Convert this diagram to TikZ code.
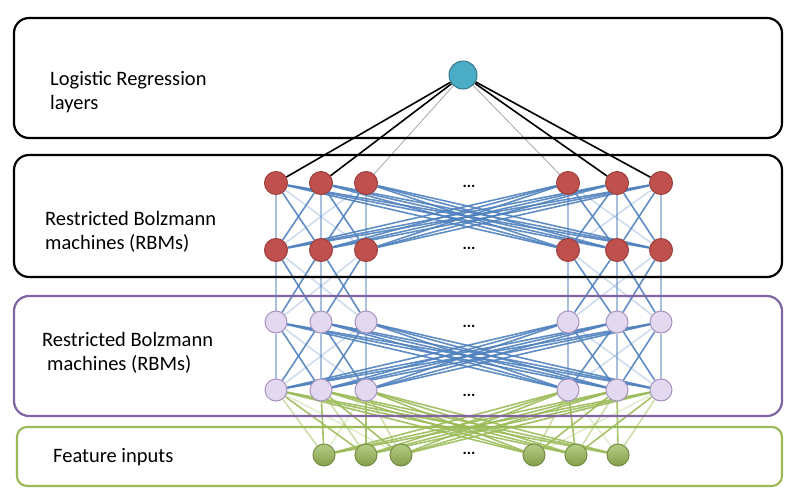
\documentclass[tikz,border=0pt]{standalone}
\usepackage{fontspec}
\setmainfont{Carlito}
\usepackage{xcolor}
\usepackage{tikz}
\usetikzlibrary{backgrounds}

\definecolor{lrblue}{RGB}{75,172,198}
\definecolor{rbmred}{RGB}{192,80,77}
\definecolor{rbmlilac}{RGB}{226,217,240}
\definecolor{rbmpurple}{RGB}{128,100,162}
\definecolor{featgreen}{RGB}{155,187,89}
\definecolor{wblue}{RGB}{79,129,189}

\begin{document}
\begin{tikzpicture}[
    x=1pt, y=-1pt,
    layerbox/.style={line width=2.2pt, rounded corners=15pt},
    lbl/.style={anchor=west, align=left, inner sep=0pt, font=\fontsize{20.5}{23.5}\selectfont},
    unit/.style={circle, minimum size=23pt, inner sep=0pt, line width=1pt},
    outunit/.style={unit, minimum size=28pt, fill=lrblue, draw=lrblue!70!black},
    hidunit/.style={unit, fill=rbmred, draw=rbmred!80!black},
    visunit/.style={unit, minimum size=22pt, fill=rbmlilac, draw=rbmpurple!70},
    inunit/.style={unit, minimum size=22pt, draw=featgreen!75!black,
      top color=featgreen!75!white, bottom color=featgreen!85!black},
    dots/.style={inner sep=0pt, font=\fontsize{16}{16}\selectfont\bfseries},
    wline/.style={line width=1.6pt},
    strong/.style={line width=1.6pt, black},
    faint/.style={line width=0.8pt, black!35}
  ]
  \useasboundingbox (0,0) rectangle (800,498);

  % the four layers
  \draw[layerbox, black] (14,18) rectangle (782,138);
  \draw[layerbox, black] (14,155) rectangle (782,277);
  \draw[layerbox, rbmpurple] (14,296) rectangle (782,416);
  \draw[layerbox, featgreen, rounded corners=10pt] (17,427) rectangle (782,486);

  \node[lbl] (t1) at (50,92) {Logistic Regression\\layers};
  \node[lbl] (t2) at (45,232) {Restricted Bolzmann\\machines (RBMs)};
  \node[lbl] (t3) at (42,353) {Restricted Bolzmann\\\hspace*{5pt}machines (RBMs)};
  \node[lbl] (t4) at (53,457) {Feature inputs};

  % units
  \node[outunit] (top) at (463,75) {};
  \foreach \x [count=\i] in {276,321,366,568,617,661} {
    \node[hidunit] (a\i) at (\x,183) {};
    \node[hidunit] (b\i) at (\x,250) {};
    \node[visunit] (c\i) at (\x,322) {};
    \node[visunit] (d\i) at (\x,390) {};
  }
  \foreach \x [count=\i] in {324,366,401,534,576,618}
    \node[inunit] (f\i) at (\x,455) {};
  \foreach \y [count=\k] in {186,248,326,395,453}
    \node[dots] (e\k) at (469,\y) {...};

  % weights
  \begin{scope}[on background layer]
    \foreach \i/\s in {1/strong,2/strong,3/faint,4/faint,5/strong,6/strong}
      \draw[\s] (top) -- (a\i);
    \foreach \i in {1,...,6}
      \foreach \j in {1,...,6} {
        \pgfmathtruncatemacro\d{abs(\i-\j)}
        \pgfmathtruncatemacro\same{int((\i-1)/3)==int((\j-1)/3)}
        \pgfmathsetmacro\op{\d==0 ? 0.5 : ((\same==1 && \d==2) ? 0.28 : 0.9)}
        \draw[wline, wblue, opacity=\op] (a\i) -- (b\j);
        \draw[wline, wblue, opacity=\op] (c\i) -- (d\j);
        \ifnum\same=1
          \draw[wline, wblue, opacity=\op] (b\i) -- (c\j);
        \fi
        \draw[wline, featgreen, opacity=\op] (d\i) -- (f\j);
      }
  \end{scope}
\end{tikzpicture}
\end{document}
